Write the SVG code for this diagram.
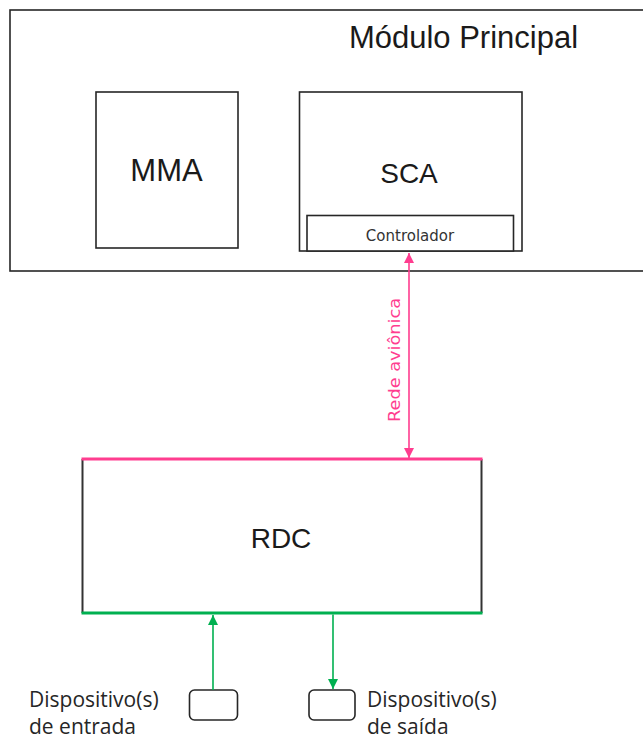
<svg xmlns="http://www.w3.org/2000/svg" width="643" height="742" viewBox="0 0 643 742">
  <style>
    .box { fill: #ffffff; stroke: #262626; stroke-width: 1.6; }
    .big { font-family: "Liberation Sans", Arial, sans-serif; fill: #1a1a1a; text-anchor: middle; }
    .lbl { font-family: "Open Sans", "DejaVu Sans", sans-serif; font-size: 21px; fill: #262626; }
    .pink { stroke: #ff3d8f; }
    .green { stroke: #00b050; }
  </style>
  <defs>
    <marker id="ap" markerUnits="userSpaceOnUse" markerWidth="10" markerHeight="12" viewBox="0 0 10 12" refX="10" refY="5" orient="auto-start-reverse">
      <path d="M0,0 L10,5 L0,10 Z" fill="#ff3d8f"/>
    </marker>
    <marker id="ag" markerUnits="userSpaceOnUse" markerWidth="10" markerHeight="12" viewBox="0 0 10 12" refX="10" refY="5" orient="auto">
      <path d="M0,0 L10,5 L0,10 Z" fill="#00b050"/>
    </marker>
  </defs>
  <rect width="643" height="742" fill="#ffffff"/>

  <g id="modulo-principal">
    <rect class="box" x="10" y="10" width="660" height="261"/>
    <text class="big" x="463.5" y="48" font-size="31">Módulo Principal</text>
  </g>

  <g id="mma">
    <rect class="box" x="96" y="92" width="142" height="156"/>
    <text class="big" x="166.5" y="181" font-size="31">MMA</text>
  </g>

  <g id="sca">
    <rect class="box" x="299.5" y="92" width="222.5" height="159"/>
    <text class="big" x="409" y="183" font-size="28">SCA</text>
  </g>

  <g id="controlador">
    <rect class="box" x="307" y="215.5" width="206.5" height="35.5"/>
    <text x="410" y="241" font-family="DejaVu Sans, Verdana, sans-serif" font-size="15" fill="#333333" text-anchor="middle">Controlador</text>
  </g>

  <g id="rdc">
    <rect x="82.5" y="459" width="399" height="154" fill="#ffffff"/>
    <line x1="82.5" y1="459" x2="82.5" y2="613" stroke="#333333" stroke-width="2"/>
    <line x1="481.5" y1="459" x2="481.5" y2="613" stroke="#333333" stroke-width="2"/>
    <line x1="81.5" y1="459" x2="482.5" y2="459" class="pink" stroke-width="3"/>
    <line x1="81.5" y1="613" x2="482.5" y2="613" class="green" stroke-width="3"/>
    <text class="big" x="281" y="548" font-size="28">RDC</text>
  </g>

  <g id="dispositivo-entrada">
    <rect class="box" x="189.5" y="690" width="48" height="30" rx="5"/>
    <text class="lbl" x="29" y="707">Dispositivo(s)</text>
    <text class="lbl" x="29" y="734">de entrada</text>
  </g>

  <g id="dispositivo-saida">
    <rect class="box" x="309" y="690" width="46" height="30" rx="5"/>
    <text class="lbl" x="367" y="707">Dispositivo(s)</text>
    <text class="lbl" x="367" y="734">de saída</text>
  </g>

  <g id="connectors">
    <line x1="409" y1="253" x2="409" y2="458" class="pink" stroke-width="1.6" marker-start="url(#ap)" marker-end="url(#ap)"/>
    <text x="400" y="360" transform="rotate(-90 400 360)" font-family="DejaVu Sans, Verdana, sans-serif" font-size="15" fill="#ff3d8f" text-anchor="middle" textLength="124" lengthAdjust="spacingAndGlyphs">Rede aviônica</text>
    <line x1="213" y1="690" x2="213" y2="615" class="green" stroke-width="1.6" marker-end="url(#ag)"/>
    <line x1="333" y1="614.5" x2="333" y2="689" class="green" stroke-width="1.6" marker-end="url(#ag)"/>
  </g>
</svg>
